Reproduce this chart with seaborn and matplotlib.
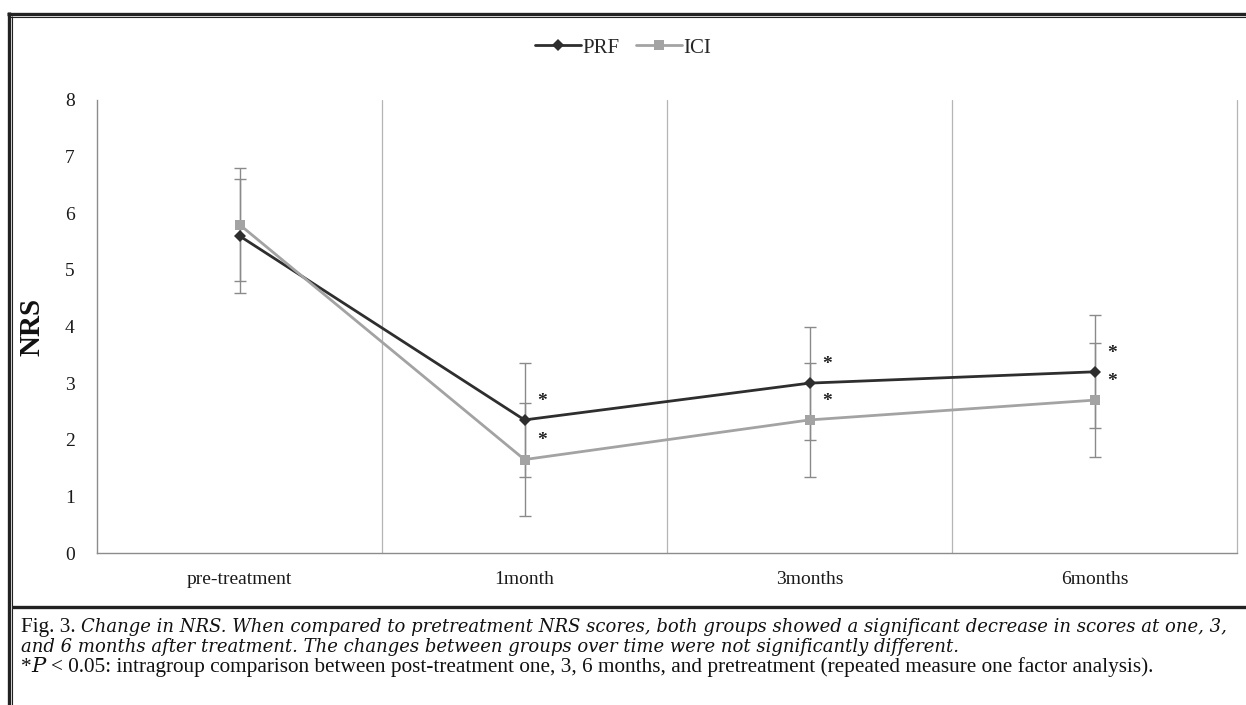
"""
NRS change over time for PRF and ICI groups (mean +/- SD).
"""

import matplotlib
matplotlib.use("Agg")
import numpy as np
import pandas as pd
import matplotlib.pyplot as plt
from matplotlib.lines import Line2D
import seaborn as sns

# data
timepoints = ["pre-treatment", "1month", "3months", "6months"]
groups = ["PRF", "ICI"]
prf_mean = [5.6, 2.35, 3.0, 3.2]
prf_sd = [1.0, 1.0, 1.0, 1.0]
ici_mean = [5.8, 1.65, 2.35, 2.7]
ici_sd = [1.0, 1.0, 1.0, 1.0]
significant = [False, True, True, True]
y_ticks = [0, 1, 2, 3, 4, 5, 6, 7, 8]

caption_1 = [("Fig. 3.", "normal"),
             ("Change in NRS. When compared to pretreatment NRS scores, both groups "
              "showed a significant decrease in scores at one, 3,", "italic")]
caption_2 = [("and 6 months after treatment. The changes between groups over time "
              "were not significantly different.", "italic")]
caption_3 = [("*", "normal"), ("P", "italic"),
             ("< 0.05: intragroup comparison between post-treatment one, 3, 6 months, "
              "and pretreatment (repeated measure one factor analysis).", "normal")]

W, H = 1246, 705
SERIF = ["Liberation Serif", "DejaVu Serif"]
CAPTION_FONTS = {"normal": ["Liberation Serif"], "italic": ["DejaVu Serif"]}
colors = {"PRF": "#2e2e2e", "ICI": "#a3a3a3"}

df = pd.DataFrame({
    "pos": list(range(len(timepoints))) * 2,
    "NRS": prf_mean + ici_mean,
    "group": ["PRF"] * len(prf_mean) + ["ICI"] * len(ici_mean),
})

sns.set_style("white")
plt.rcParams["font.family"] = SERIF

fig = plt.figure(figsize=(W / 100, H / 100), dpi=100)
ax = fig.add_axes([97 / W, 1 - 553 / H, (1237 - 97) / W, (553 - 100) / H])

# error bars first so the lines sit on top
for means, sds in [(prf_mean, prf_sd), (ici_mean, ici_sd)]:
    ax.errorbar(range(len(timepoints)), means, yerr=sds, fmt="none",
                ecolor="#8a8a8a", elinewidth=1.0, capsize=4, capthick=1.0, zorder=2)

sns.lineplot(data=df, x="pos", y="NRS", hue="group", style="group",
             hue_order=groups, style_order=groups, palette=colors,
             markers={"PRF": "D", "ICI": "s"}, dashes=False,
             linewidth=2.0, markersize=6.5, markeredgewidth=0,
             ax=ax, zorder=3, legend=True)
for ln in ax.lines:
    if ln.get_marker() == "s":
        ln.set_markersize(7.5)

# significance marks
for means in [prf_mean, ici_mean]:
    for i, (m, sig) in enumerate(zip(means, significant)):
        if sig:
            ax.text(i + 0.06, m + 0.33, "*", ha="center", va="center",
                    fontsize=14, fontweight="bold", color="#222222")

# category boundaries
for b in np.arange(0.5, len(timepoints), 1.0):
    ax.axvline(b, color="#b5b5b5", lw=0.9, zorder=1, clip_on=False)

ax.set_xlim(-0.5, len(timepoints) - 0.5)
ax.set_ylim(0, 8)
ax.set_xticks(range(len(timepoints)))
ax.set_xticklabels(timepoints)
ax.set_yticks(y_ticks)
ax.tick_params(axis="both", length=0, labelsize=14, colors="#1a1a1a")
ax.tick_params(axis="y", pad=16)
ax.tick_params(axis="x", pad=13)
ax.set_xlabel("")
ax.set_ylabel("NRS", fontsize=21, fontweight="bold", color="#111111")
ax.yaxis.set_label_coords(-52 / 1140, 0.5)
for side in ["top", "right"]:
    ax.spines[side].set_visible(False)
for side in ["left", "bottom"]:
    ax.spines[side].set_color("#8c8c8c")
    ax.spines[side].set_linewidth(1.0)

handles, labels = ax.get_legend_handles_labels()
ax.get_legend().remove()
fig.legend(handles, labels, loc="center", bbox_to_anchor=(0.5, 1 - 48 / H),
           ncol=2, frameon=False, fontsize=15, handlelength=2.2,
           handletextpad=0.05, columnspacing=0.8)

# frame around the panel
def fig_line(x0, y0, x1, y1, lw, color="#222222"):
    fig.add_artist(Line2D([x0 / W, x1 / W], [1 - y0 / H, 1 - y1 / H],
                          lw=lw, color=color, solid_capstyle="butt"))

fig_line(7, 13.5, W, 13.5, 2.4)
fig_line(10, 16.8, W, 16.8, 0.8)
fig_line(8.5, 12, 8.5, H, 2.4)
fig_line(12, 16, 12, H, 0.8)
fig_line(12, 606.5, W, 606.5, 2.4)

# caption, drawn run by run
renderer = fig.canvas.get_renderer()


def text_width(s, style, size):
    t = fig.text(0, 0, s, fontsize=size, style=style, family=CAPTION_FONTS[style])
    w = t.get_window_extent(renderer).width
    t.remove()
    return w


def space_width(size):
    return text_width("x x", "normal", size) - text_width("xx", "normal", size)


def draw_runs(runs, x, y, sizes, joins):
    gap = space_width(sizes["normal"])
    for (s, st), j in zip(runs, joins):
        fig.text(x / W, 1 - y / H, s, fontsize=sizes[st], style=st,
                 family=CAPTION_FONTS[st], color="#111111", va="baseline")
        x += text_width(s, st, sizes[st]) + (gap if j else 0)


# regular size fitted on the footnote line, italic size on the first line
w3 = sum(text_width(s, st, 10) for s, st in caption_3) + space_width(10)
reg = 10 * (1150 - 21) / w3
head = text_width(caption_1[0][0], "normal", reg) + space_width(reg)
ita = 10 * (1223 - 21 - head) / text_width(caption_1[1][0], "italic", 10)
sizes = {"normal": reg, "italic": ita}

draw_runs(caption_1, 21, 632, sizes, [True, False])
draw_runs(caption_2, 21, 652, sizes, [False])
draw_runs(caption_3, 21, 672, {"normal": reg, "italic": reg}, [False, True, False])

fig.savefig("out.png", dpi=100)
